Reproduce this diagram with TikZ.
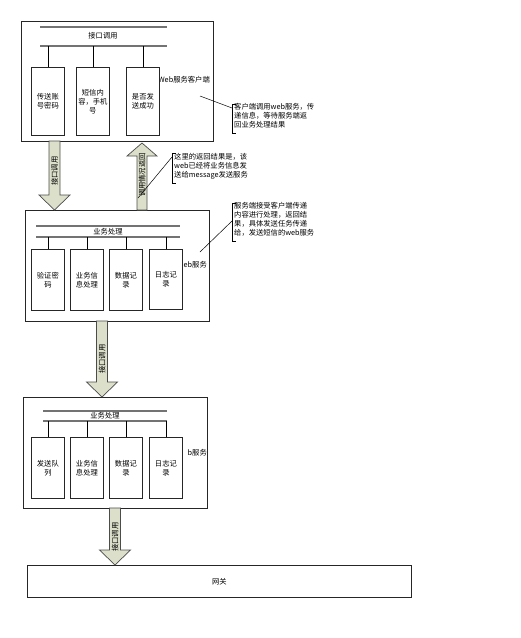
\documentclass[tikz,border=0pt]{standalone}
\usepackage{fontspec}
\setmainfont{Noto Sans CJK SC}
\usetikzlibrary{calc}
\definecolor{arrowfill}{HTML}{DCDFC9}
\newcommand\fs{\fontsize{7.3}{9}\selectfont}
\newcommand\blkdown[2]{\draw[blk] let \p1=(#1),\p2=(#2) in (\x1-5.5pt,\y1) -- (\x1+5.5pt,\y1) -- (\x1+5.5pt,\y2+15pt) -- (\x1+15.5pt,\y2+15pt) -- (\x2,\y2) -- (\x1-15.5pt,\y2+15pt) -- (\x1-5.5pt,\y2+15pt) -- cycle;}
\newcommand\blkup[2]{\draw[blk] let \p1=(#1),\p2=(#2) in (\x1-5pt,\y1) -- (\x1+5pt,\y1) -- (\x1+5pt,\y2-13pt) -- (\x1+15pt,\y2-13pt) -- (\x2,\y2) -- (\x1-15pt,\y2-13pt) -- (\x1-5pt,\y2-13pt) -- cycle;}
\begin{document}
\begin{tikzpicture}[x=1pt,y=-1pt,
  outer/.style={draw=black!85,line width=0.9pt,fill=white,inner sep=0pt,anchor=north west},
  ibox/.style={draw=black!85,line width=0.8pt,fill=white,align=center,font=\fs,inner sep=0pt,anchor=north west,minimum width=33pt,minimum height=#1},
  bar/.style={draw=black!55,line width=1.3pt},
  stub/.style={draw=black,line width=0.8pt},
  blk/.style={draw=black!70,fill=arrowfill,line width=0.7pt,line join=miter},
  lbl/.style={font=\fs,inner sep=0pt},
  note/.style={font=\fs,align=left,inner sep=0pt,anchor=north west},
  brk/.style={draw=black,line width=1pt},
  lead/.style={draw=black,line width=0.5pt}
  ]
\useasboundingbox (0,0) rectangle (521,638);
% ---------- top box ----------
\node[outer,minimum width=192pt,minimum height=120pt] (top) at (21,21) {};
\coordinate (tbL) at (40,46); \coordinate (tbR) at (167,46);
\draw[bar] (40,27) -- (167,27);
\node[lbl] (tlab) at (103,36) {接口调用};
\draw[bar] (tbL) -- (tbR);
\node[lbl,anchor=east] (tweb) at (210,80) {Web服务客户端};
\node[ibox=68pt] (t1) at (31,67) {传送账\\号密码};
\node[ibox=68pt] (t2) at (76,67) {短信内\\容，手机\\号};
\node[ibox=68pt] (t3) at (126,67) {是否发\\送成功};
\foreach \n in {t1,t2,t3} \draw[stub] (\n.north) -- (\n.north |- tbL);
% ---------- middle box ----------
\node[outer,minimum width=184pt,minimum height=111pt] (mid) at (25,210) {};
\coordinate (mbL) at (36,237); \coordinate (mbR) at (180,237);
\draw[bar] (36,226) -- (180,226);
\node[lbl] (mlab) at (108,231.5) {业务处理};
\draw[bar] (mbL) -- (mbR);
\node[lbl,anchor=east] (mweb) at (207,265) {eb服务};
\node[ibox=61pt] (m1) at (31,249) {验证密\\码};
\node[ibox=61pt] (m2) at (70,249) {业务信\\息处理};
\node[ibox=61pt] (m3) at (109,249) {数据记\\录};
\node[ibox=60pt] (m4) at (149,249) {日志记\\录};
\foreach \n in {m1,m2,m3,m4} \draw[stub] (\n.north) -- (\n.north |- mbL);
% ---------- bottom box ----------
\node[outer,minimum width=184pt,minimum height=111pt] (bot) at (23,397) {};
\coordinate (bbL) at (43,421); \coordinate (bbR) at (167,421);
\draw[bar] (43,411) -- (167,411);
\node[lbl] (blab) at (105,416) {业务处理};
\draw[bar] (bbL) -- (bbR);
\node[lbl,anchor=east] (bweb) at (207,453) {b服务};
\node[ibox=61pt] (b1) at (31,437) {发送队\\列};
\node[ibox=61pt] (b2) at (70,437) {业务信\\息处理};
\node[ibox=61pt] (b3) at (109,437) {数据记\\录};
\node[ibox=61pt] (b4) at (149,437) {日志记\\录};
\foreach \n in {b1,b2,b3,b4} \draw[stub] (\n.north) -- (\n.north |- bbL);
% ---------- gateway ----------
\node[outer,minimum width=384pt,minimum height=32pt,font=\fs] (gw) at (27,565) {网关};
% ---------- block arrows ----------
\coordinate (a1t) at (54.5,141); \coordinate (a1h) at (54.5,210);
\blkdown{a1t}{a1h}
\node[lbl,rotate=90] at (54.5,171) {接口调用};
\coordinate (a2t) at (142,210); \coordinate (a2h) at (142,143);
\blkup{a2t}{a2h}
\node[lbl,rotate=90] at (142,175) {调用情况返回};
\coordinate (a3t) at (102,321); \coordinate (a3h) at (102,397);
\blkdown{a3t}{a3h}
\node[lbl,rotate=90] at (102,359) {接口调用};
\coordinate (a4t) at (115,508); \coordinate (a4h) at (115,565);
\blkdown{a4t}{a4h}
\node[lbl,rotate=90] at (115,537) {接口调用};
% ---------- callouts ----------
\draw[brk] (236,104) -- (232,104) -- (232,133) -- (236,133);
\node[note] (n1) at (234,103.5) {客户端调用web服务，传\\递信息，等待服务端返\\回业务处理结果};
\coordinate (c1a) at (232,108); \coordinate (c1b) at (200,96);
\draw[lead] (c1b) -- (c1a);
\draw[brk] (176,153) -- (172,153) -- (172,183) -- (176,183);
\node[note] (n2) at (174,153.5) {这里的返回结果是，该\\web已经将业务信息发\\送给message发送服务};
\coordinate (c2a) at (172,157); \coordinate (c2b) at (138,198);
\draw[lead] (c2b) -- (c2a);
\draw[brk] (236,203) -- (232,203) -- (232,241) -- (236,241);
\node[note] (n3) at (234,202.5) {服务端接受客户端传递\\内容进行处理，返回结\\果，具体发送任务传递\\给，发送短信的web服务};
\coordinate (c3a) at (232,221); \coordinate (c3b) at (200,252);
\draw[lead] (c3b) -- (c3a);
\end{tikzpicture}
\end{document}
